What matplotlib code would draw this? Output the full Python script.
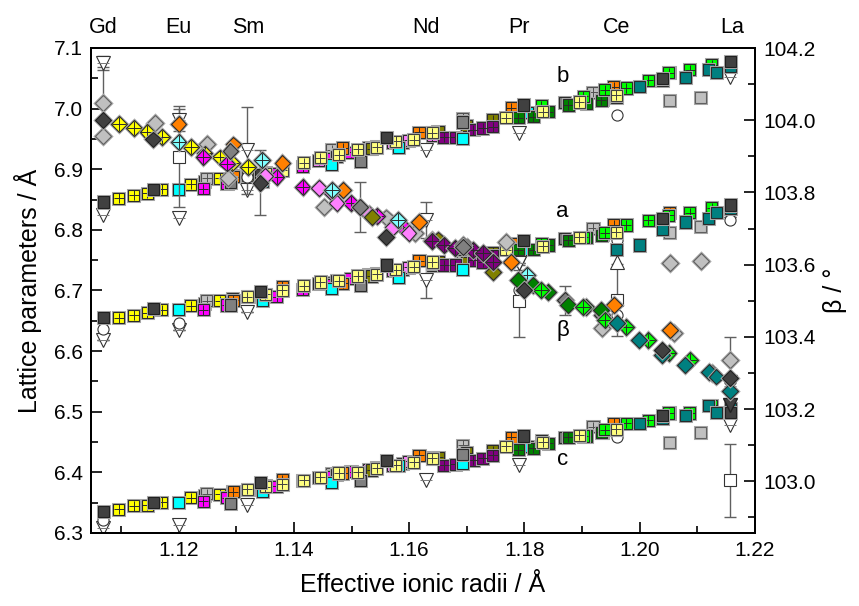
import numpy as np
import matplotlib.pyplot as plt
import matplotlib.patheffects as pe
from matplotlib.ticker import MultipleLocator, FormatStrFormatter

plt.rcParams['font.family'] = ['Liberation Sans', 'DejaVu Sans']
plt.rcParams['font.size'] = 15

nan = np.nan

# element labels on top (9-coordinate effective ionic radii)
elements = ["Gd", "Eu", "Sm", "Nd", "Pr", "Ce", "La"]
element_r = [1.107, 1.120, 1.132, 1.163, 1.179, 1.196, 1.216]

# yellow (Gd-Sm)
yel_r = [1.1096, 1.1122, 1.1146, 1.1171, 1.1221, 1.1245, 1.1271, 1.1293, 1.1321]
yel_a = [6.655, 6.659, 6.663, 6.668, 6.675, 6.678, 6.683, 6.686, 6.690]
yel_b = [6.852, 6.857, 6.860, 6.867, 6.875, 6.880, 6.885, 6.889, 6.891]
yel_c = [6.339, 6.345, 6.346, 6.351, 6.358, 6.362, 6.364, 6.368, 6.372]
yel_beta = [103.989, 103.978, 103.968, 103.953, 103.925, 103.908, 103.897, 103.882, 103.871]

# dark grey (end members)
dk_r = [1.1069, 1.1156, 1.1342, 1.1560, 1.1799, 1.2039, 1.2157]
dk_a = [6.656, 6.670, 6.699, 6.742, 6.783, 6.819, 6.841]
dk_b = [6.846, 6.867, 6.891, 6.953, 7.006, 7.050, 7.077]
dk_c = [6.335, 6.351, 6.384, 6.420, 6.460, 6.494, 6.499]
dk_beta = [104.000, 103.947, 103.827, 103.676, 103.530, 103.363, 103.286]
dk_beta_err = [0.0, 0.0, 0.09, 0.0, 0.0, 0.0, 0.0]

# cyan
cy_r = [1.1200, 1.1345, 1.1466, 1.1581, 1.1693, 1.1805]
cy_a = [6.668, 6.684, 6.703, 6.721, 6.735, 6.767]
cy_b = [6.866, 6.880, 6.908, 6.936, 6.951, 6.994]
cy_c = [6.350, 6.368, 6.383, 6.412, 6.415, 6.442]
cy_beta = [103.940, 103.890, 103.807, 103.724, 103.654, 103.571]

# orange
or_r = [1.1200, 1.1295, 1.1380, 1.1485, 1.1617, 1.1777, 1.1955, 1.2052]
or_a = [nan, 6.684, 6.707, 6.712, 6.749, 6.778, 6.808, 6.828]
or_b = [nan, 6.888, 6.905, 6.935, 6.961, 7.001, 7.036, 7.059]
or_c = [nan, 6.368, 6.388, 6.399, 6.428, 6.458, 6.481, 6.498]
or_beta = [103.989, 103.933, 103.881, 103.807, 103.718, 103.607, 103.488, 103.419]

# magenta
mg_r = [1.1243, 1.1284, 1.1370, 1.1415, 1.1465, 1.1499, 1.1544, 1.1589]
mg_a = [6.668, 6.676, 6.690, 6.701, 6.710, 6.720, 6.728, 6.735]
mg_b = [6.868, 6.876, 6.893, 6.904, 6.917, 6.928, 6.938, 6.944]
mg_c = [6.352, 6.358, 6.377, 6.386, 6.393, 6.401, 6.408, 6.415]
mg_beta = [103.899, 103.880, 103.843, 103.816, 103.800, 103.771, 103.735, 103.704]

# violet
vi_r = [1.1350, 1.1443, 1.1474, 1.1530, 1.1572, 1.1599, 1.1640]
vi_a = [6.694, 6.712, 6.716, 6.727, 6.733, 6.738, 6.742]
vi_b = [6.895, 6.915, 6.921, 6.935, 6.944, 6.948, 6.955]
vi_c = [6.378, 6.392, 6.396, 6.405, 6.412, 6.418, 6.424]
vi_beta = [103.845, 103.812, 103.771, 103.740, 103.704, 103.688, 103.668]

# purple
pu_r = [1.1640, 1.1660, 1.1680, 1.1711, 1.1728, 1.1745]
pu_a = [6.745, 6.742, 6.742, 6.750, 6.747, 6.758]
pu_b = [6.960, 6.953, 6.953, 6.965, 6.968, 6.970]
pu_c = [6.423, 6.412, 6.413, 6.420, 6.423, 6.428]
pu_beta = [103.665, 103.654, 103.646, 103.640, 103.632, 103.607]

# olive
ol_r = [1.1535, 1.1650, 1.1700, 1.1745]
ol_a = [6.724, 6.748, 6.755, 6.763]
ol_b = [6.934, 6.962, 6.972, 6.982]
ol_c = [6.404, 6.425, 6.432, 6.436]
ol_beta = [103.733, 103.670, 103.650, 103.579]

# light yellow
ly_r = [1.1319, 1.1350, 1.1380, 1.1417, 1.1446, 1.1478, 1.1511, 1.1544,
        1.1577, 1.1608, 1.1640, 1.1768, 1.1832, 1.1895, 1.1959]
ly_a = [6.690, 6.694, 6.700, 6.708, 6.714, 6.716, 6.724, 6.727,
        6.734, 6.739, 6.747, 6.767, 6.773, 6.788, 6.796]
ly_b = [6.889, 6.893, 6.898, 6.911, 6.919, 6.924, 6.933, 6.936,
        6.946, 6.949, 6.960, 6.985, 6.995, 7.011, 7.022]
ly_c = [6.372, 6.376, 6.380, 6.387, 6.392, 6.399, 6.400, 6.407,
        6.412, 6.417, 6.423, 6.443, 6.450, 6.461, 6.471]

# light grey, crossed squares
lgx_r = [1.1249, 1.1466, 1.1693, 1.1919]
lgx_a = [6.683, 6.713, 6.762, 6.803]
lgx_b = [6.885, 6.932, 6.984, 7.027]
lgx_c = [6.365, 6.398, 6.445, 6.475]

# grey
gr_r = [1.1290, 1.1515, 1.1693, 1.1870, 1.1935]
gr_a = [6.676, 6.708, 6.768, 6.786, 6.792]
gr_b = [6.878, 6.913, 6.978, 7.010, 7.015]
gr_c = [6.348, 6.387, 6.430, 6.458, 6.466]
gr_beta = [103.915, 103.760, 103.649, 103.502, 103.460]
gr_beta_err = [0.0, 0.07, 0.0, 0.04, 0.0]

# light grey squares (outliers)
lg_r = [1.2052, 1.2106]
lg_a = [6.796, 6.806]
lg_b = [7.014, 7.019]
lg_c = [6.450, 6.466]

# light grey diamonds (beta only)
lgd_r = [1.1069, 1.1069, 1.1159, 1.1249, 1.1286, 1.1452, 1.1560, 1.1610,
         1.1768, 1.1935, 1.2052, 1.2106, 1.2059, 1.2157]
lgd_beta = [104.048, 103.956, 103.993, 103.934, 103.840, 103.760, 103.731, 103.688,
            103.663, 103.424, 103.604, 103.610, 103.410, 103.336]
lgd_err = [0.10, 0, 0, 0, 0, 0, 0, 0, 0, 0, 0, 0, 0, 0.065]

# bright green
gn_r = [1.1829, 1.1902, 1.1939, 1.1977, 1.2015, 1.2050, 1.2087, 1.2125]
gn_a = [6.778, 6.788, 6.795, 6.808, 6.816, 6.824, 6.828, 6.836]
gn_b = [7.005, 7.020, 7.031, 7.034, 7.047, 7.059, 7.064, 7.072]
gn_c = [6.452, 6.460, 6.470, 6.481, 6.486, 6.498, 6.498, 6.511]
gn_beta = [103.530, 103.483, 103.447, 103.427, 103.391, 103.355, 103.336, 103.300]

# dark green
dg_r = [1.1789, 1.1815, 1.1841, 1.1876, 1.1907, 1.1933]
dg_a = [6.767, 6.767, 6.775, 6.783, 6.788, 6.791]
dg_b = [6.985, 6.987, 6.995, 7.006, 7.009, 7.014]
dg_c = [6.437, 6.440, 6.448, 6.458, 6.460, 6.466]
dg_beta = [103.557, 103.543, 103.524, 103.488, 103.483, 103.474]

# teal
tl_r = [1.1960, 1.1999, 1.2039, 1.2079, 1.2120, 1.2133, 1.2157]
tl_a = [6.767, 6.775, 6.800, 6.813, 6.819, 6.828, 6.835]
tl_b = [7.018, 7.036, 7.046, 7.052, 7.064, 7.059, 7.070]
tl_c = [6.470, 6.480, 6.489, 6.494, 6.511, 6.499, 6.505]
tl_beta = [103.438, 103.391, 103.350, 103.322, 103.302, 103.290, 103.250]

# open down triangles (reference data)
ot_r = [1.1069, 1.1200, 1.1319, 1.1630, 1.1790, 1.2157]
ot_a = [6.618, 6.635, 6.665, 6.717, 6.745, 6.821]
ot_b = [6.824, 6.819, 6.866, 6.932, 6.960, 7.052]
ot_c = [6.308, 6.313, 6.346, 6.387, 6.412, 6.478]
ot_beta = [104.158, 104.000, 103.917, 103.724, 103.604, 103.264]
ot_beta_err = [0.02, 0.03, 0.12, 0.05, 0.02, 0.02]
ot_a_err = [0.0, 0.0, 0.0, 0.03, 0.0, 0.0]

# open circles
oc_r = [1.1069, 1.1069, 1.1200, 1.1960, 1.1960, 1.1960, 1.2157]
oc_lat = [6.637, 6.321, 6.646, 6.783, 6.990, 6.458, 6.816]
ocb_r = [1.1319, 1.1790, 1.1960]
ocb_beta = [103.843, 103.530, 103.460]

# open squares with error bars
os_r = [1.1200, 1.1790, 1.1960]
os_beta = [103.899, 103.500, 103.502]
os_beta_err = [0.14, 0.10, 0.10]
osl_r = [1.2157]
osl_c = [6.387]
osl_err = [0.06]

# open up triangle, dark filled triangles
ou_r = [1.1960]
ou_beta = [103.607]
dt_r = [1.2157, 1.2157]
dt_beta = [103.275, 103.211]

fig = plt.figure(figsize=(8.59, 6.06), dpi=100)
ax = fig.add_axes([91 / 859, 1 - 533 / 606, (755 - 91) / 859, (533 - 48) / 606])
ax2 = ax.twinx()

halo = [pe.withStroke(linewidth=2.2, foreground='#a8a8a8')]
EDGE = '#2a2a2a'


def lattice(r, a, b, c, face, cross, edge=EDGE, z=3):
    for vals in (a, b, c):
        ax.plot(r, vals, ls='none', marker='s', ms=8, mfc=face, mec=edge,
                mew=0.8, zorder=z, path_effects=halo)
        if cross:
            ax.plot(r, vals, ls='none', marker='+', ms=7.6, mec=edge,
                    mew=0.7, zorder=z)


def angle(r, beta, face, cross, edge=EDGE, z=3):
    ax2.plot(r, beta, ls='none', marker='D', ms=8, mfc=face, mec=edge,
             mew=0.8, zorder=z, path_effects=halo)
    if cross:
        ax2.plot(r, beta, ls='none', marker='+', ms=10.5, mec=edge,
                 mew=0.7, zorder=z)


ebar = dict(fmt='none', ecolor='#606060', elinewidth=1.0, capsize=4.5,
            capthick=1.0, zorder=2)

# error bars first
ax2.errorbar(lgd_r, lgd_beta, yerr=lgd_err, **ebar)
ax2.errorbar(dk_r, dk_beta, yerr=dk_beta_err, **ebar)
ax2.errorbar(gr_r, gr_beta, yerr=gr_beta_err, **ebar)
ax2.errorbar(ot_r, ot_beta, yerr=ot_beta_err, **ebar)
ax2.errorbar(os_r, os_beta, yerr=os_beta_err, **ebar)
ax.errorbar(osl_r, osl_c, yerr=osl_err, **ebar)
ax.errorbar(ot_r, ot_a, yerr=ot_a_err, **ebar)

# open reference markers
openm = dict(ls='none', mfc='white', mec='#333333', mew=0.8, zorder=2)
for vals in (ot_a, ot_b, ot_c):
    ax.plot(ot_r, vals, marker='v', ms=10, **openm)
    ax.plot(ot_r, vals, marker='_', ms=8, ls='none', mec='#777777', mew=0.7, zorder=2)
ax2.plot(ot_r, ot_beta, marker='v', ms=10, **openm)
ax2.plot(ot_r, ot_beta, marker='_', ms=8, ls='none', mec='#777777', mew=0.7, zorder=2)
ax.plot(oc_r, oc_lat, marker='o', ms=8, **openm)
ax2.plot(ocb_r, ocb_beta, marker='o', ms=8, **openm)
ax2.plot(os_r, os_beta, marker='s', ms=8, **openm)
ax.plot(osl_r, osl_c, marker='s', ms=8, **openm)
ax2.plot(ou_r, ou_beta, marker='^', ms=10, **openm)
ax2.plot(dt_r, dt_beta, ls='none', marker='v', ms=10, mfc='#404040', mec='#202020', zorder=3)

# lattice parameters (squares)
lattice(yel_r, yel_a, yel_b, yel_c, '#ffff00', True)
lattice(lgx_r, lgx_a, lgx_b, lgx_c, '#c0c0c0', True, edge='#505050')
lattice(mg_r, mg_a, mg_b, mg_c, '#ff00ff', True)
lattice(vi_r, vi_a, vi_b, vi_c, '#ff80ff', True)
lattice(or_r, or_a, or_b, or_c, '#ff8000', True)
lattice(ol_r, ol_a, ol_b, ol_c, '#808000', True)
lattice(pu_r, pu_a, pu_b, pu_c, '#800080', True)
lattice(cy_r, cy_a, cy_b, cy_c, '#00ffff', False)
lattice(gr_r, gr_a, gr_b, gr_c, '#808080', False)
lattice(lg_r, lg_a, lg_b, lg_c, '#c0c0c0', False, edge='#606060')
lattice(dg_r, dg_a, dg_b, dg_c, '#008000', True)
lattice(gn_r, gn_a, gn_b, gn_c, '#00ff00', True)
lattice(tl_r, tl_a, tl_b, tl_c, '#008080', False)
lattice(ly_r, ly_a, ly_b, ly_c, '#ffff80', True, edge='#404040')
lattice(dk_r, dk_a, dk_b, dk_c, '#404040', False, edge='#202020')

# monoclinic angle (diamonds)
angle(lgd_r, lgd_beta, '#c0c0c0', False, edge='#606060')
angle(yel_r, yel_beta, '#ffff00', True)
angle(mg_r, mg_beta, '#ff00ff', True)
angle(vi_r, vi_beta, '#ff80ff', False)
angle(or_r, or_beta, '#ff8000', False)
angle(ol_r, ol_beta, '#808000', False)
angle(pu_r, pu_beta, '#800080', True)
angle(cy_r, cy_beta, '#80ffff', True)
angle(gr_r, gr_beta, '#808080', False)
angle(dg_r, dg_beta, '#008000', False)
angle(gn_r, gn_beta, '#00ff00', True)
angle(tl_r, tl_beta, '#008080', False)
angle(dk_r, dk_beta, '#404040', False, edge='#202020')

# axes
ax.set_xlim(1.1048, 1.22)
ax.set_ylim(6.3, 7.1)
ax2.set_ylim(102.857, 104.2)
ax.xaxis.set_major_locator(MultipleLocator(0.02))
ax.xaxis.set_minor_locator(MultipleLocator(0.01))
ax.xaxis.set_major_formatter(FormatStrFormatter('%.2f'))
ax.yaxis.set_major_locator(MultipleLocator(0.1))
ax.yaxis.set_minor_locator(MultipleLocator(0.05))
ax.yaxis.set_major_formatter(FormatStrFormatter('%.1f'))
ax2.yaxis.set_major_locator(MultipleLocator(0.2))
ax2.yaxis.set_minor_locator(MultipleLocator(0.1))
ax2.yaxis.set_major_formatter(FormatStrFormatter('%.1f'))

for a_ in (ax, ax2):
    a_.tick_params(which='both', direction='in', width=1.2, pad=6)
    a_.tick_params(which='major', length=8)
    a_.tick_params(which='minor', length=5)
    for s in a_.spines.values():
        s.set_linewidth(1.4)
ax.tick_params(which='both', top=False, right=False)

ax.set_xlabel('Effective ionic radii / Å', fontsize=18, labelpad=9)
ax.set_ylabel('Lattice parameters / Å', fontsize=18, labelpad=8)
ax2.set_ylabel('β / °', fontsize=18, labelpad=5)

for name, r in zip(elements, element_r):
    ax.text(r, 1.043, name, transform=ax.get_xaxis_transform(),
            ha='center', va='center', fontsize=15.5)

ax.text(1.1866, 7.053, 'b', ha='center', va='center', fontsize=16)
ax.text(1.1866, 6.831, 'a', ha='center', va='center', fontsize=16)
ax.text(1.1866, 6.634, 'β', ha='center', va='center', fontsize=16)
ax.text(1.1866, 6.421, 'c', ha='center', va='center', fontsize=16)

fig.savefig('out.png', dpi=100)
